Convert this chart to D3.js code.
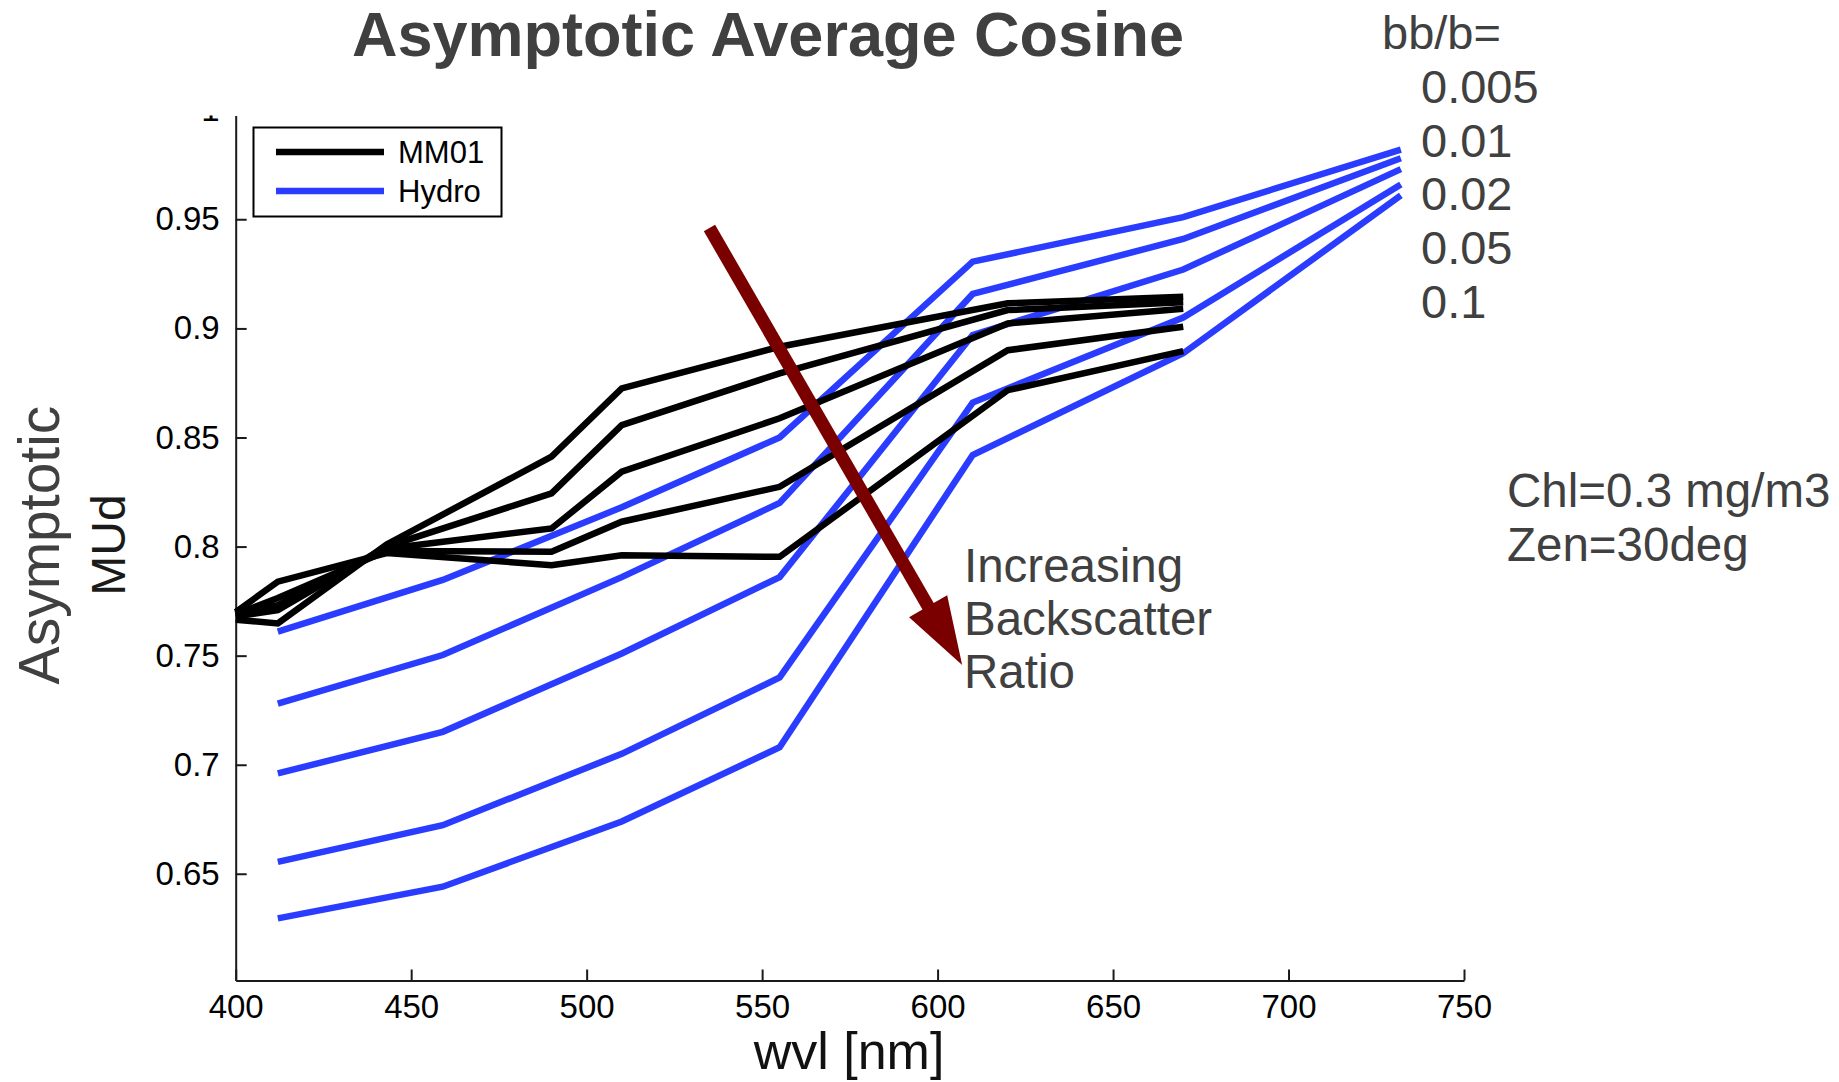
<!DOCTYPE html>
<html>
<head>
<meta charset="utf-8">
<script src="https://cdn.jsdelivr.net/npm/d3@7"></script>
<style>
  body { margin: 0; background: #fff; }
  svg text { font-family: "Liberation Sans", Arial, sans-serif; }
</style>
</head>
<body>
<script>
// wavelengths of each model run
var mmWvl = [400, 412, 443, 490, 510, 555, 620, 670];
var hydroWvl = [412, 459, 510, 555, 610, 670, 732];
var bbLabels = ["0.005", "0.01", "0.02", "0.05", "0.1"];

// MM01, one array per bb/b
var mm005 = [0.7665, 0.7648, 0.801, 0.8412, 0.8725, 0.8916, 0.9115, 0.9145];
var mm01  = [0.768, 0.7709, 0.800, 0.8244, 0.8557, 0.8794, 0.9084, 0.912];
var mm02  = [0.7685, 0.7732, 0.799, 0.8083, 0.8343, 0.8588, 0.9023, 0.909];
var mm05  = [0.769, 0.7764, 0.798, 0.7976, 0.8114, 0.8274, 0.890, 0.9008];
var mm10  = [0.770, 0.7839, 0.797, 0.7915, 0.796, 0.7953, 0.8717, 0.8896];

// Hydrolight, one array per bb/b
var hy005 = [0.761, 0.7847, 0.818, 0.850, 0.9306, 0.951, 0.982];
var hy01  = [0.728, 0.7503, 0.786, 0.820, 0.9158, 0.941, 0.978];
var hy02  = [0.696, 0.7151, 0.751, 0.786, 0.897, 0.927, 0.973];
var hy05  = [0.6555, 0.6723, 0.705, 0.740, 0.866, 0.905, 0.966];
var hy10  = [0.6296, 0.6441, 0.674, 0.708, 0.842, 0.8886, 0.961];

var xTicks = [400, 450, 500, 550, 600, 650, 700, 750];
var yTicks = [0.65, 0.7, 0.75, 0.8, 0.85, 0.9, 0.95, 1];

// arrow annotation, in data units
var arrowFrom = [535, 0.946];
var arrowTo = [607, 0.7457];

var width = 1839;
var height = 1082;
var blue = "#2a3cff";
var gray = "#404040";

var svg = d3.select("body").append("svg")
  .attr("width", width)
  .attr("height", height);

var x = d3.scaleLinear().domain([400, 750]).range([235.7, 1464]);
var y = d3.scaleLinear().domain([0.6011, 0.9976]).range([980.5, 115.5]);

var line = d3.line()
  .x(function(d) { return x(d[0]); })
  .y(function(d) { return y(d[1]); });

function pairs(wvl, vals) {
  return vals.map(function(v, i) { return [wvl[i], v]; });
}

var mmSeries = [mm005, mm01, mm02, mm05, mm10];
var hySeries = [hy005, hy01, hy02, hy05, hy10];

// axes
var xAxis = svg.append("g")
  .attr("transform", "translate(0," + y.range()[0] + ")")
  .call(d3.axisBottom(x).tickValues(xTicks).tickSizeInner(-11).tickSizeOuter(0).tickPadding(14));

var yAxis = svg.append("g")
  .attr("transform", "translate(" + x.range()[0] + ",0)")
  .call(d3.axisLeft(y).tickValues(yTicks).tickSizeInner(-11).tickSizeOuter(0).tickPadding(16)
        .tickFormat(function(d) { return String(+d.toFixed(2)); }));

[xAxis, yAxis].forEach(function(g) {
  g.select(".domain").attr("stroke", "#1a1a1a").attr("stroke-width", 2);
  g.selectAll(".tick line").attr("stroke", "#1a1a1a").attr("stroke-width", 2);
  g.selectAll(".tick text").attr("fill", "#000").attr("font-size", 33)
    .attr("font-family", "Liberation Sans, Arial, sans-serif");
});

// the "1" label sits above the axis box and is cut off (clip is in the axis group's own coords)
svg.append("clipPath").attr("id", "topclip")
  .append("rect").attr("x", -240).attr("y", y.range()[1]).attr("width", 270).attr("height", 900);
yAxis.selectAll(".tick").filter(function(d) { return d === 1; })
  .each(function() {
    d3.select(this).select("line").remove();
  });
yAxis.attr("clip-path", "url(#topclip)");

// lines
svg.append("g").selectAll("path")
  .data(hySeries)
  .enter().append("path")
  .attr("d", function(d) { return line(pairs(hydroWvl, d)); })
  .attr("fill", "none")
  .attr("stroke", blue)
  .attr("stroke-width", 6.5)
  .attr("stroke-linejoin", "miter");

svg.append("g").selectAll("path")
  .data(mmSeries)
  .enter().append("path")
  .attr("d", function(d) { return line(pairs(mmWvl, d)); })
  .attr("fill", "none")
  .attr("stroke", "#000")
  .attr("stroke-width", 6.5)
  .attr("stroke-linejoin", "miter");

// arrow
var ax0 = x(arrowFrom[0]), ay0 = y(arrowFrom[1]);
var ax1 = x(arrowTo[0]), ay1 = y(arrowTo[1]);
var len = Math.sqrt((ax1 - ax0) * (ax1 - ax0) + (ay1 - ay0) * (ay1 - ay0));
var ux = (ax1 - ax0) / len, uy = (ay1 - ay0) / len;
var headLen = 68, headHalf = 22;
var bx = ax1 - headLen * ux, by = ay1 - headLen * uy;
svg.append("line")
  .attr("x1", ax0).attr("y1", ay0)
  .attr("x2", bx + 2 * ux).attr("y2", by + 2 * uy)
  .attr("stroke", "#7a0000")
  .attr("stroke-width", 13);
svg.append("polygon")
  .attr("points", [
    [ax1, ay1],
    [bx - headHalf * uy, by + headHalf * ux],
    [bx + headHalf * uy, by - headHalf * ux]
  ].map(function(p) { return p.join(","); }).join(" "))
  .attr("fill", "#7a0000");

// legend
var legend = svg.append("g");
legend.append("rect")
  .attr("x", 253.5).attr("y", 127.5).attr("width", 248).attr("height", 89)
  .attr("fill", "#fff").attr("stroke", "#000").attr("stroke-width", 2);
[["MM01", "#000", 152], ["Hydro", blue, 191]].forEach(function(e) {
  legend.append("line")
    .attr("x1", 276).attr("x2", 384).attr("y1", e[2]).attr("y2", e[2])
    .attr("stroke", e[1]).attr("stroke-width", 6.5);
  legend.append("text")
    .attr("x", 398).attr("y", e[2] + 11)
    .attr("font-size", 31).attr("fill", "#000")
    .text(e[0]);
});

// titles
svg.append("text")
  .attr("x", 768).attr("y", 56)
  .attr("text-anchor", "middle")
  .attr("font-size", 63).attr("font-weight", "bold").attr("fill", gray)
  .text("Asymptotic Average Cosine");

svg.append("text")
  .attr("x", 849).attr("y", 1069)
  .attr("text-anchor", "middle")
  .attr("font-size", 52).attr("fill", "#111")
  .text("wvl [nm]");

svg.append("text")
  .attr("transform", "translate(59,545) rotate(-90)")
  .attr("text-anchor", "middle")
  .attr("font-size", 57).attr("fill", gray)
  .text("Asymptotic");
svg.append("text")
  .attr("transform", "translate(125,545) rotate(-90)")
  .attr("text-anchor", "middle")
  .attr("font-size", 48).attr("fill", "#1a1a1a")
  .text("MUd");

// annotations
svg.append("text")
  .attr("x", 1382).attr("y", 49)
  .attr("font-size", 47).attr("fill", gray)
  .text("bb/b=");
svg.append("g").selectAll("text")
  .data(bbLabels)
  .enter().append("text")
  .attr("x", 1421)
  .attr("y", function(d, i) { return 103 + i * 53.7; })
  .attr("font-size", 47).attr("fill", gray)
  .text(function(d) { return d; });

["Chl=0.3 mg/m3", "Zen=30deg"].forEach(function(t, i) {
  svg.append("text")
    .attr("x", 1507).attr("y", 507 + i * 54)
    .attr("font-size", 47.5).attr("fill", gray)
    .text(t);
});

["Increasing", "Backscatter", "Ratio"].forEach(function(t, i) {
  svg.append("text")
    .attr("x", 964).attr("y", 582 + i * 53)
    .attr("font-size", 47.5).attr("fill", gray)
    .text(t);
});
</script>
</body>
</html>
